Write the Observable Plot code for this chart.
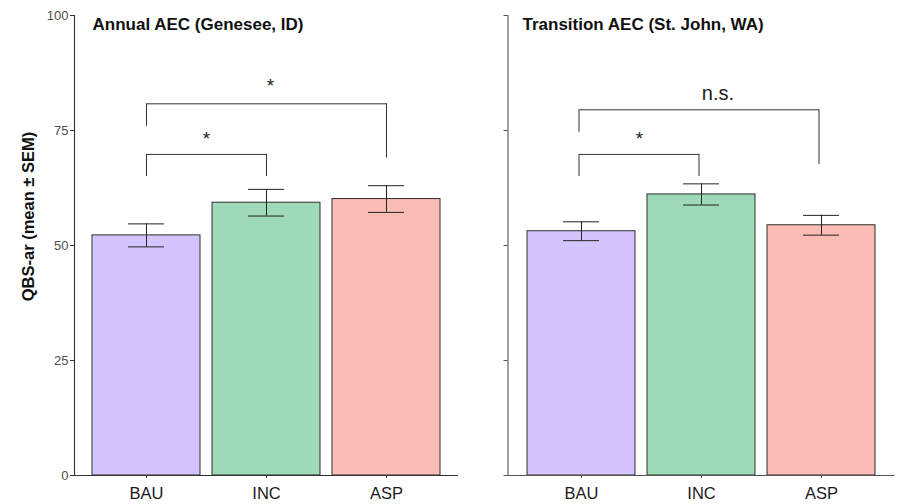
<!DOCTYPE html>
<html>
<head>
<meta charset="utf-8">
<script src="https://cdn.jsdelivr.net/npm/d3@7"></script>
<script src="https://cdn.jsdelivr.net/npm/@observablehq/plot@0.6"></script>
<style>
  html, body { margin: 0; padding: 0; background: #fff; }
  #chart { position: relative; width: 897px; height: 504px; overflow: hidden; }
  #chart > div, #chart > svg { position: absolute; top: 0; }
</style>
</head>
<body>
<div id="chart"></div>
<script>
// ---- data ----
const groups = ["BAU", "INC", "ASP"];
const groupColors = ["#d5c3fe", "#9fdab8", "#fbbcb5"];
const yTicks = [0, 25, 50, 75, 100];
const yLabel = "QBS-ar (mean ± SEM)";
const panelTitles = ["Annual AEC (Genesee, ID)", "Transition AEC (St. John, WA)"];

const annualMean = [52.2, 59.3, 60.1];
const annualSem = [2.5, 2.9, 2.9];
const transitionMean = [53.1, 61.1, 54.4];
const transitionSem = [2.05, 2.3, 2.15];

const annualBrackets = [
  {from: "BAU", to: "INC", top: 69.8, leftEnd: 65.0, rightEnd: 65.0, label: "*"},
  {from: "BAU", to: "ASP", top: 80.8, leftEnd: 75.9, rightEnd: 69.0, label: "*"}
];
const transitionBrackets = [
  {from: "BAU", to: "INC", top: 69.8, leftEnd: 65.0, rightEnd: 65.0, label: "*"},
  {from: "BAU", to: "ASP", top: 79.5, leftEnd: 74.6, rightEnd: 67.6, label: "n.s."}
];

const rows = (means, sems) => groups.map((g, i) => ({group: g, mean: means[i], sem: sems[i]}));

const FONT = "'Liberation Sans', Arial, Helvetica, sans-serif";

function panel({data, brackets, title, showLabels, left, width, marginLeft, marginRight, titleDx, axisColor, bracketDx, labelNudges}) {
  const innerW = width - marginLeft - marginRight;
  const step = innerW / 3.2;
  const bracketMarks = [
    Plot.link(brackets, {x1: "from", x2: "to", y1: "top", y2: "top", stroke: "#333", strokeWidth: 1, dx: bracketDx}),
    Plot.ruleX(brackets, {x: "from", y1: "leftEnd", y2: "top", stroke: "#333", strokeWidth: 1, dx: bracketDx}),
    Plot.ruleX(brackets, {x: "to", y1: "rightEnd", y2: "top", stroke: "#333", strokeWidth: 1, dx: bracketDx})
  ];
  brackets.forEach((b, i) => {
    const span = groups.indexOf(b.to) - groups.indexOf(b.from);
    bracketMarks.push(Plot.text([b], {
      x: "from", y: "top", text: "label",
      dx: span / 2 * step + bracketDx + labelNudges[i][0],
      dy: -9.5 + labelNudges[i][1],
      lineAnchor: "bottom", textAnchor: "middle",
      fontSize: b.label === "*" ? 19 : 20, fill: "#222"
    }));
  });
  const marks = [
    Plot.barY(data, {x: "group", y: "mean", fill: "group", stroke: "#2e2e2e", strokeWidth: 1}),
    Plot.ruleX(data, {x: "group", y1: d => d.mean - d.sem, y2: d => d.mean + d.sem, stroke: "#222", strokeWidth: 1}),
    Plot.tickY(data, {x: "group", y: d => d.mean + d.sem, stroke: "#222", strokeWidth: 1, insetLeft: 36, insetRight: 36}),
    Plot.tickY(data, {x: "group", y: d => d.mean - d.sem, stroke: "#222", strokeWidth: 1, insetLeft: 36, insetRight: 36}),
    ...bracketMarks,
    Plot.ruleY([0], {stroke: axisColor, strokeWidth: 1.1}),
    Plot.frame({anchor: "left", stroke: axisColor, strokeWidth: 1.1}),
    Plot.axisY({ticks: yTicks, tickSize: 4, tickPadding: 2, stroke: axisColor, fill: "#4d4d4d", fontSize: 13,
      tickFormat: showLabels ? (d => String(d)) : (() => ""), label: null}),
    Plot.axisX({tickSize: 3, tickPadding: 9, stroke: axisColor, fill: "#1a1a1a", fontSize: 16.5, label: null}),
    Plot.text([title], {frameAnchor: "top-left", dx: titleDx, dy: 2, lineAnchor: "top", textAnchor: "start",
      fontSize: 17, fontWeight: "bold", fill: "#111"})
  ];
  if (showLabels) {
    marks.push(Plot.text([yLabel], {frameAnchor: "left", dx: -46, dy: -29, rotate: -90, textAnchor: "middle",
      lineAnchor: "middle", fontSize: 16.5, fontWeight: "bold", fill: "#111"}));
  }
  const p = Plot.plot({
    width, height: 504,
    marginLeft, marginRight, marginTop: 15, marginBottom: 29,
    style: {fontFamily: FONT, background: "transparent", overflow: "visible"},
    x: {domain: groups, paddingInner: 0.1, paddingOuter: 0.15, label: null},
    y: {domain: [0, 100], label: null},
    color: {domain: groups, range: groupColors},
    marks
  });
  p.style.left = left + "px";
  return p;
}

const chart = document.getElementById("chart");
chart.appendChild(panel({
  data: rows(annualMean, annualSem), brackets: annualBrackets, title: panelTitles[0],
  showLabels: true, left: 0, width: 458, marginLeft: 74, marginRight: 0, titleDx: 18,
  axisColor: "#333", bracketDx: 0, labelNudges: [[0, 0], [4, -2.5]]
}));
chart.appendChild(panel({
  data: rows(transitionMean, transitionSem), brackets: transitionBrackets, title: panelTitles[1],
  showLabels: false, left: 458, width: 439, marginLeft: 49.5, marginRight: 2.5, titleDx: 14.5,
  axisColor: "#555", bracketDx: -2.5, labelNudges: [[0, 0], [18, 0]]
}));
</script>
</body>
</html>
